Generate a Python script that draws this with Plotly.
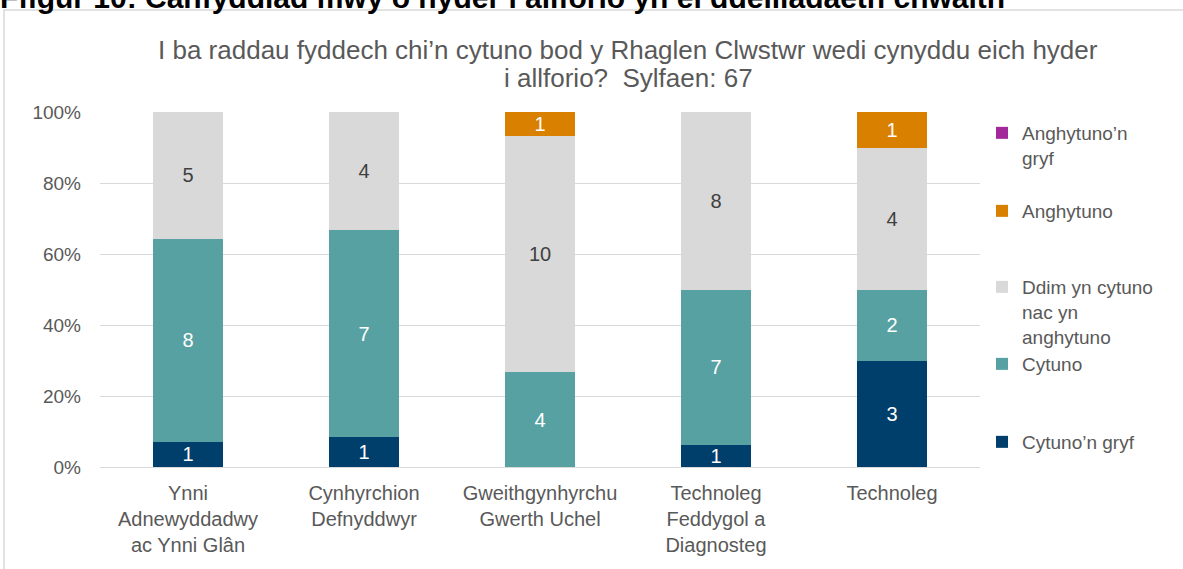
import plotly.graph_objects as go

categories = ["Ynni<br>Adnewyddadwy<br>ac Ynni Glân", "Cynhyrchion<br>Defnyddwyr",
              "Gweithgynhyrchu<br>Gwerth Uchel", "Technoleg<br>Feddygol a<br>Diagnosteg", "Technoleg"]
series_names = ["Cytuno’n gryf", "Cytuno", "Ddim yn cytuno<br>nac yn<br>anghytuno", "Anghytuno", "Anghytuno’n<br>gryf"]
cytuno_gryf = [1, 1, 0, 1, 3]
cytuno = [8, 7, 4, 7, 2]
ddim = [5, 4, 10, 8, 4]
anghytuno = [0, 0, 1, 0, 1]
anghytuno_gryf = [0, 0, 0, 0, 0]
values = [cytuno_gryf, cytuno, ddim, anghytuno, anghytuno_gryf]
colors = ["#003e6b", "#57a1a3", "#d9d9d9", "#d98000", "#a3299a"]
text_colors = ["white", "white", "#404040", "white", "white"]
tick_vals = [0, 20, 40, 60, 80, 100]
tick_text = ["0%", "20%", "40%", "60%", "80%", "100%"]
title_lines = ["I ba raddau fyddech chi’n cytuno bod y Rhaglen Clwstwr wedi cynyddu eich hyder",
               "i allforio?  Sylfaen: 67"]
heading = "Ffigur 10: Canfyddiad mwy o hyder i allforio yn ei ddeiliadaeth chwaith"

W, H = 1183, 569
L, R, T, B = 100, 980, 112, 467
FONT = "Liberation Sans, Arial"

def px(x):
    return (x - L) / (R - L)

def py(y):
    return (B - y) / (B - T)

fig = go.Figure()
legend_ids = ["legend5", "legend4", "legend3", "legend2", "legend"]
legend_y = [442, 364, 287, 211, 133]
for i, (name, vals) in enumerate(zip(series_names, values)):
    fig.add_trace(go.Bar(
        x=categories, y=vals, name=name,
        marker=dict(color=colors[i], line=dict(width=0)),
        text=[str(v) if v else "" for v in vals],
        textposition="inside", insidetextanchor="middle",
        textfont=dict(size=20, color=text_colors[i], family=FONT),
        textangle=0,
        legend=legend_ids[i],
    ))

layout_legends = {}
for i, lid in enumerate(legend_ids):
    layout_legends[lid] = dict(
        x=px(982), xanchor="left", y=py(legend_y[i] - 19), yanchor="top",
        font=dict(size=19, color="#595959", family=FONT),
        bgcolor="rgba(0,0,0,0)", valign="top", itemclick=False,
    )

fig.update_layout(
    width=W, height=H,
    margin=dict(l=L, r=W - R, t=T, b=H - B, pad=0, autoexpand=False),
    barmode="stack", barnorm="percent", bargap=0.6,
    plot_bgcolor="white", paper_bgcolor="white",
    font=dict(family=FONT, color="#595959"),
    showlegend=True,
    uniformtext=dict(mode="show", minsize=20),
    xaxis=dict(tickfont=dict(size=20, color="#595959"), showline=True,
               linecolor="#d9d9d9", linewidth=1, ticks="", showgrid=False,
               ticklabelstandoff=8, automargin=False),
    yaxis=dict(range=[0, 100], tickvals=tick_vals, ticktext=tick_text,
               tickfont=dict(size=19, color="#595959"), showgrid=True,
               gridcolor="#d9d9d9", gridwidth=1, zeroline=False, ticks="",
               ticklabelstandoff=18, automargin=False),
    **layout_legends,
)

for line, yc in zip(title_lines, [50, 78]):
    fig.add_annotation(
        text=line, xref="paper", yref="paper", x=px(628), y=py(yc),
        xanchor="center", yanchor="middle", showarrow=False,
        font=dict(size=26, color="#595959", family=FONT),
    )
fig.add_annotation(
    text="<b>" + heading + "</b>",
    xref="paper", yref="paper", x=px(-2), y=py(16), xanchor="left", yanchor="bottom",
    showarrow=False, font=dict(size=30, color="black", family=FONT),
)
fig.add_shape(type="rect", xref="paper", yref="paper",
              x0=px(4), x1=px(1200), y0=py(600), y1=py(10),
              line=dict(color="#d9d9d9", width=1.5), fillcolor="rgba(0,0,0,0)", layer="below")

fig.write_html("out.html", config={"displayModeBar": False},
               post_script="document.body.style.margin='0';document.body.style.overflow='hidden';")
